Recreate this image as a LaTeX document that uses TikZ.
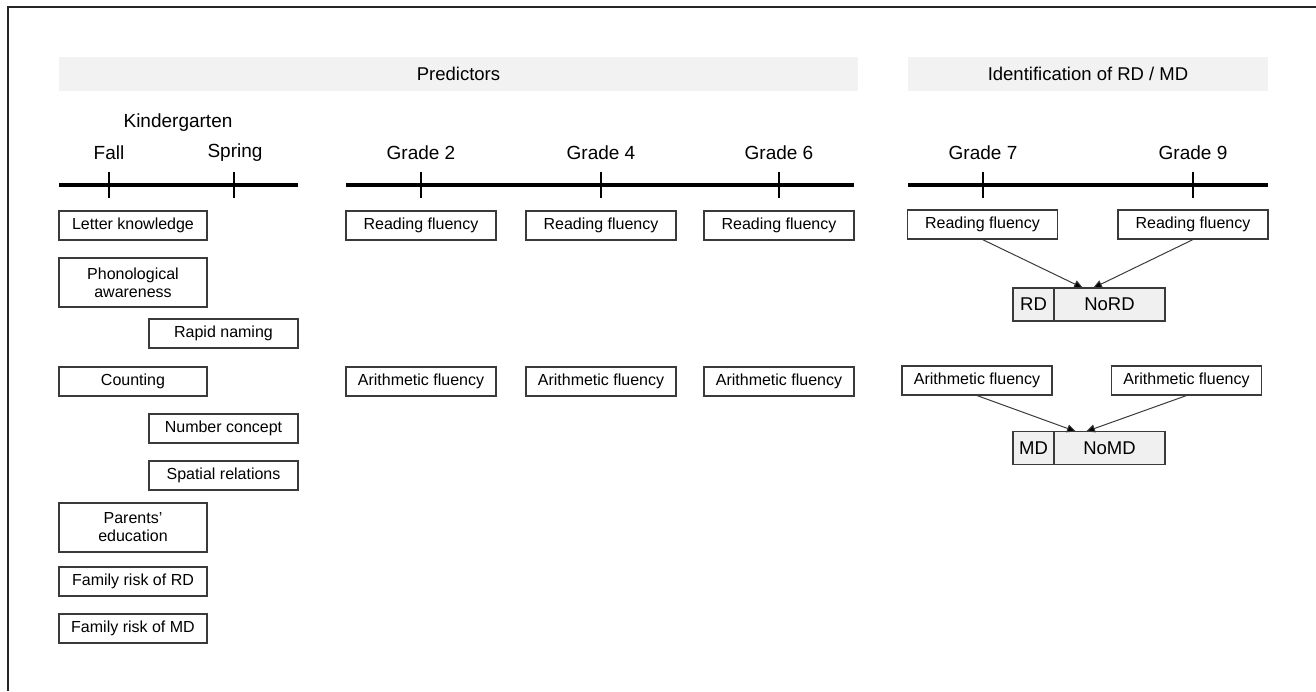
\documentclass[tikz,border=0pt]{standalone}
\usepackage{fontspec}
\setmainfont{Liberation Sans}
\usetikzlibrary{arrows.meta}
\definecolor{bandgray}{HTML}{F2F2F2}
\definecolor{cellgray}{HTML}{F0F0F0}
\definecolor{linegray}{HTML}{3A3A3A}
\tikzset{
  box/.style={draw=linegray, line width=1.1pt, inner sep=0pt, align=center,
    minimum height=29pt, font=\fontsize{16}{18}\selectfont, text=black},
  lbox/.style={box, minimum width=148pt},
  wbox/.style={box, minimum width=150pt},
  tallbox/.style={lbox, minimum height=49pt},
  cell/.style={draw=linegray, line width=1.1pt, fill=cellgray, inner sep=0pt,
    minimum height=33pt, font=\fontsize{18.5}{20}\selectfont},
  band/.style={fill=bandgray, draw=none, inner sep=0pt, minimum height=34pt,
    font=\fontsize{18.5}{20}\selectfont},
  biglabel/.style={inner sep=0pt, font=\fontsize{19}{21}\selectfont},
  tl/.style={line width=3.3pt, black},
  tick/.style={line width=2.8pt, black},
  conn/.style={draw=linegray, line width=1pt, -{Triangle[length=9pt,width=8pt,fill=black]}},
  frameline/.style={line width=2pt, black!85}
}
\begin{document}
\begin{tikzpicture}[x=1pt, y=-1pt]
\useasboundingbox (0,0) rectangle (1316,691);
% frame (top and left edges)
\coordinate (fa) at (7.5,691);
\coordinate (fb) at (7.5,6.5);
\coordinate (fc) at (1316,6.5);
\draw[frameline] (fa) -- (fb) -- (fc);

% header bands
\node[band, minimum width=799pt] (hpred) at (458.5,74) {Predictors};
\node[band, minimum width=360pt] (hid) at (1088,74) {Identification of RD / MD};

% labels
\node[biglabel] (kg) at (178,123) {Kindergarten};
\node[biglabel] (fall) at (109,153) {Fall};
\node[biglabel] (spring) at (235,153) {Spring};
\node[biglabel] (g2) at (421,153) {Grade 2};
\node[biglabel] (g4) at (601,153) {Grade 4};
\node[biglabel] (g6) at (779,153) {Grade 6};
\node[biglabel] (g7) at (983,153) {Grade 7};
\node[biglabel] (g9) at (1193,153) {Grade 9};

% timelines
\coordinate (k0) at (59,185); \coordinate (k1) at (298,185);
\coordinate (m0) at (346,185); \coordinate (m1) at (854,185);
\coordinate (r0) at (908,185); \coordinate (r1) at (1268,185);
\draw[tl] (k0) -- (k1);
\draw[tl] (m0) -- (m1);
\draw[tl] (r0) -- (r1);
\foreach \x in {109,234,421,601,779,983,1193}
  \draw[tick] (\x,172) -- (\x,198);

% kindergarten predictors
\node[lbox] (lk) at (133,225.5) {Letter knowledge};
\node[tallbox] (pa) at (133,282.5) {Phonological\\awareness};
\node[box, minimum width=149pt] (rn) at (223.5,333.5) {Rapid naming};
\node[lbox] (cnt) at (133,381.5) {Counting};
\node[box, minimum width=149pt] (nc) at (223.5,428.5) {Number concept};
\node[box, minimum width=149pt] (sr) at (223.5,475.5) {Spatial relations};
\node[tallbox] (pe) at (133,527.5) {Parents'\\education};
\node[lbox] (frd) at (133,581.5) {Family risk of RD};
\node[lbox] (fmd) at (133,628.5) {Family risk of MD};

% grades 2-6
\node[wbox] (rf2) at (421,225.5) {Reading fluency};
\node[wbox] (rf4) at (601,225.5) {Reading fluency};
\node[wbox] (rf6) at (779,225.5) {Reading fluency};
\node[wbox] (af2) at (421,381.5) {Arithmetic fluency};
\node[wbox] (af4) at (601,381.5) {Arithmetic fluency};
\node[wbox] (af6) at (779,381.5) {Arithmetic fluency};

% grades 7, 9
\node[wbox] (rf7) at (982.5,224.5) {Reading fluency};
\node[wbox] (rf9) at (1193,224.5) {Reading fluency};
\node[wbox] (af7) at (977,380.5) {Arithmetic fluency};
\node[wbox] (af9) at (1186.5,380.5) {Arithmetic fluency};

% outcome boxes
\node[cell, minimum width=41pt] (rd) at (1033.5,304.5) {RD};
\node[cell, minimum width=111pt] (nord) at (1109.5,304.5) {NoRD};
\node[cell, minimum width=41pt] (md) at (1033.5,448) {MD};
\node[cell, minimum width=111pt] (nomd) at (1109.5,448) {NoMD};

% connectors
\coordinate (trd1) at (1083,288);
\coordinate (trd2) at (1093,288);
\coordinate (tmd1) at (1076,431.5);
\coordinate (tmd2) at (1086,431.5);
\draw[conn] (rf7.south) -- (trd1);
\draw[conn] (rf9.south) -- (trd2);
\draw[conn] (af7.south) -- (tmd1);
\draw[conn] (af9.south) -- (tmd2);
\end{tikzpicture}
\end{document}
